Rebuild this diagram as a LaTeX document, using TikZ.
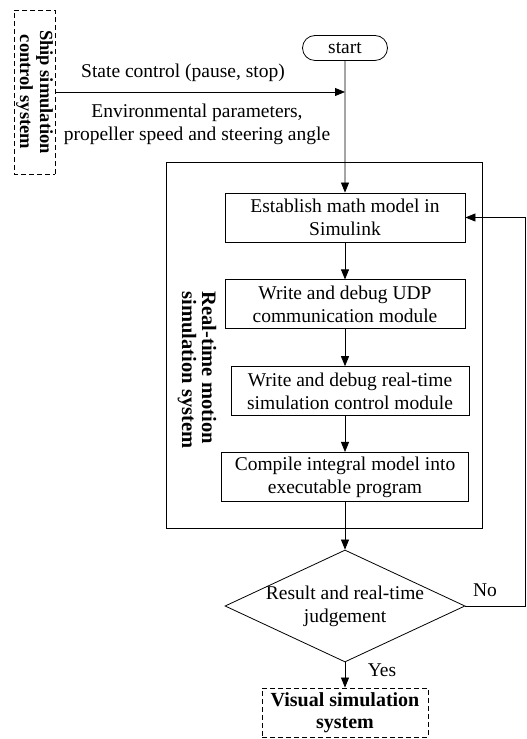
\documentclass[tikz,border=0pt]{standalone}
\usepackage{fontspec}
\setmainfont{Liberation Serif}
\usetikzlibrary{positioning,arrows.meta,shapes.geometric,shapes.misc}

\begin{document}
\begin{tikzpicture}[x=1pt, y=1pt, line width=0.8pt,
      font=\fontsize{19.5}{23}\selectfont,
      stage/.style={rectangle, draw, minimum height=49pt, align=center, inner sep=2pt},
      outer/.style={rectangle, draw, dash pattern=on 5pt off 3pt, align=center,
                    inner sep=0pt, font=\fontsize{18.5}{20}\selectfont\bfseries},
      arr/.style={-{Triangle[length=10pt, width=8pt]}}]
      \useasboundingbox (0,0) rectangle (527,739);
      \node[outer, rotate=-90, minimum width=164pt, minimum height=41pt] (ship) at (34.5,647) {Ship simulation\\control system};
      \node[draw, rounded rectangle, minimum width=85pt, minimum height=25pt, inner sep=0pt] (start) at (345,691) {start};
      \node (state) at (183,666) {State control (pause, stop)};
      \node[align=center] (env) at (197,615) {Environmental parameters,\\propeller speed and steering angle};
      \node[draw, minimum width=316pt, minimum height=366pt] (frame) at (324,394) {};
      \node[rotate=-90, align=left, font=\fontsize{20.5}{20}\selectfont\bfseries] (rtlabel) at (197,369) {Real-time motion\\simulation system};
      \node[stage, minimum width=240pt] (model) at (345,521.5) {Establish math model in\\Simulink};
      \node[stage, minimum width=240pt, below=37pt of model] (udp) {Write and debug UDP\\communication module};
      \node[stage, minimum width=238pt, below=37pt of udp, xshift=5pt] (ctrl) {Write and debug real-time\\simulation control module};
      \node[stage, minimum width=247pt, below=36pt of ctrl, xshift=-5pt] (comp) {Compile integral model into\\executable program};
      \node[diamond, draw, aspect=2.14, inner sep=-5pt, minimum width=240pt, minimum height=112pt, align=center] (judge) at (345,133) {Result and real-time\\judgement};
      \node[outer, minimum width=166pt, minimum height=49pt, font=\fontsize{20}{22}\selectfont\bfseries] (visual) at (345,26.5) {Visual simulation\\system};
      \node (no) at (485,149) {No};
      \node (yes) at (382,69) {Yes};
      \coordinate (loop) at (525.5,300);
      \draw[arr] (ship.north) -- (ship.north -| start);
      \draw[arr] (start) -- (model);
      \draw[arr] (model) -- (udp);
      \draw[arr] (udp.south) -- (udp.south |- ctrl.north);
      \draw[arr] (ctrl.south -| comp) -- (comp);
      \draw[arr] (comp) -- (judge);
      \draw[arr] (judge) -- (visual);
      \draw[arr] (judge.east) -| (loop) |- (model.east);
    \end{tikzpicture}
\end{document}
